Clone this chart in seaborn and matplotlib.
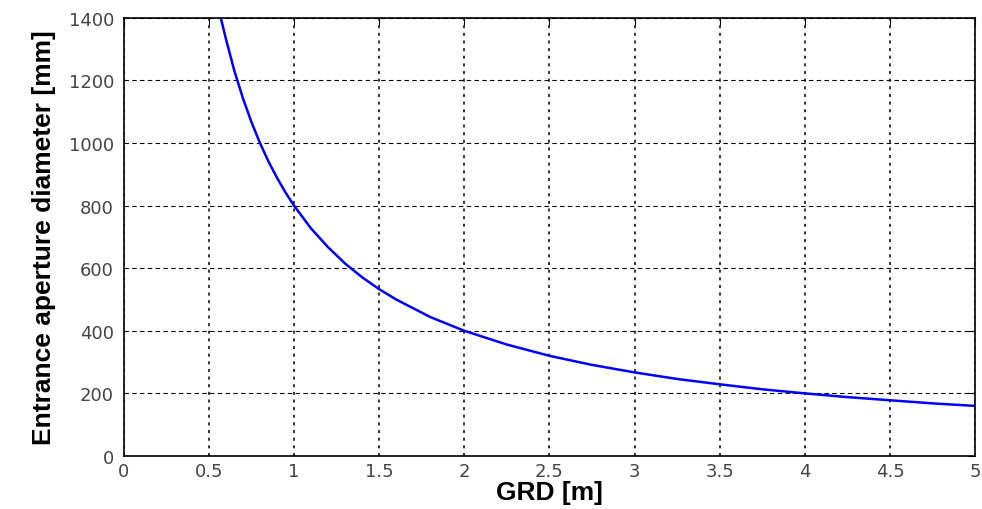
import seaborn as sns
import matplotlib.pyplot as plt
import pandas as pd

# GRD [m] and entrance aperture diameter [mm]
grd = [0.57, 0.60, 0.65, 0.70, 0.75, 0.80, 0.85, 0.90, 0.95, 1.00, 1.10, 1.20,
       1.30, 1.40, 1.50, 1.60, 1.80, 2.00, 2.25, 2.50, 2.75, 3.00, 3.25, 3.50,
       3.75, 4.00, 4.25, 4.50, 4.75, 5.00]
diameter = [1400, 1333, 1230, 1143, 1067, 1000, 941, 889, 842, 800, 727, 667,
            615, 571, 533, 500, 444, 400, 356, 320, 291, 267, 246, 229,
            213, 200, 188, 178, 168, 160]

xticks = [0, 0.5, 1, 1.5, 2, 2.5, 3, 3.5, 4, 4.5, 5]
xticklabels = ["0", "0.5", "1", "1.5", "2", "2.5", "3", "3.5", "4", "4.5", "5"]
yticks = [0, 200, 400, 600, 800, 1000, 1200, 1400]

df = pd.DataFrame({"GRD": grd, "D": diameter})

sns.set_style("white")
plt.rcParams["font.family"] = ["DejaVu Sans"]

fig = plt.figure(figsize=(9.82, 5.10), dpi=100)
ax = fig.add_axes([0.126, 0.104, 0.867, 0.859])

sns.lineplot(data=df, x="GRD", y="D", ax=ax, color="#0000ff", linewidth=1.8)

ax.set_xlim(0, 5)
ax.set_ylim(0, 1400)
ax.set_xticks(xticks)
ax.set_xticklabels(xticklabels)
ax.set_yticks(yticks)

# vertical grid dotted, horizontal grid dashed
ax.grid(axis="x", color="black", linestyle=(0, (2, 3)), linewidth=1.1)
ax.grid(axis="y", color="black", linestyle=(0, (4, 3)), linewidth=0.8)

for s in ax.spines.values():
    s.set_color("black")
    s.set_linewidth(1.2)

ax.tick_params(direction="in", length=5, top=True, right=True,
               labelsize=13, colors="black")
ax.tick_params(axis="x", pad=4)
ax.tick_params(axis="y", pad=7)
for lab in ax.get_xticklabels() + ax.get_yticklabels():
    lab.set_color("#444444")

ax.set_xlabel("GRD [m]", fontsize=19, fontweight="bold", color="black",
              family=["Liberation Sans", "DejaVu Sans"], labelpad=0)
ax.set_ylabel("Entrance aperture diameter [mm]", fontsize=19, fontweight="bold",
              color="black",
              family=["Liberation Sans Narrow", "Liberation Sans"], labelpad=9)

plt.savefig("out.png", dpi=100)
